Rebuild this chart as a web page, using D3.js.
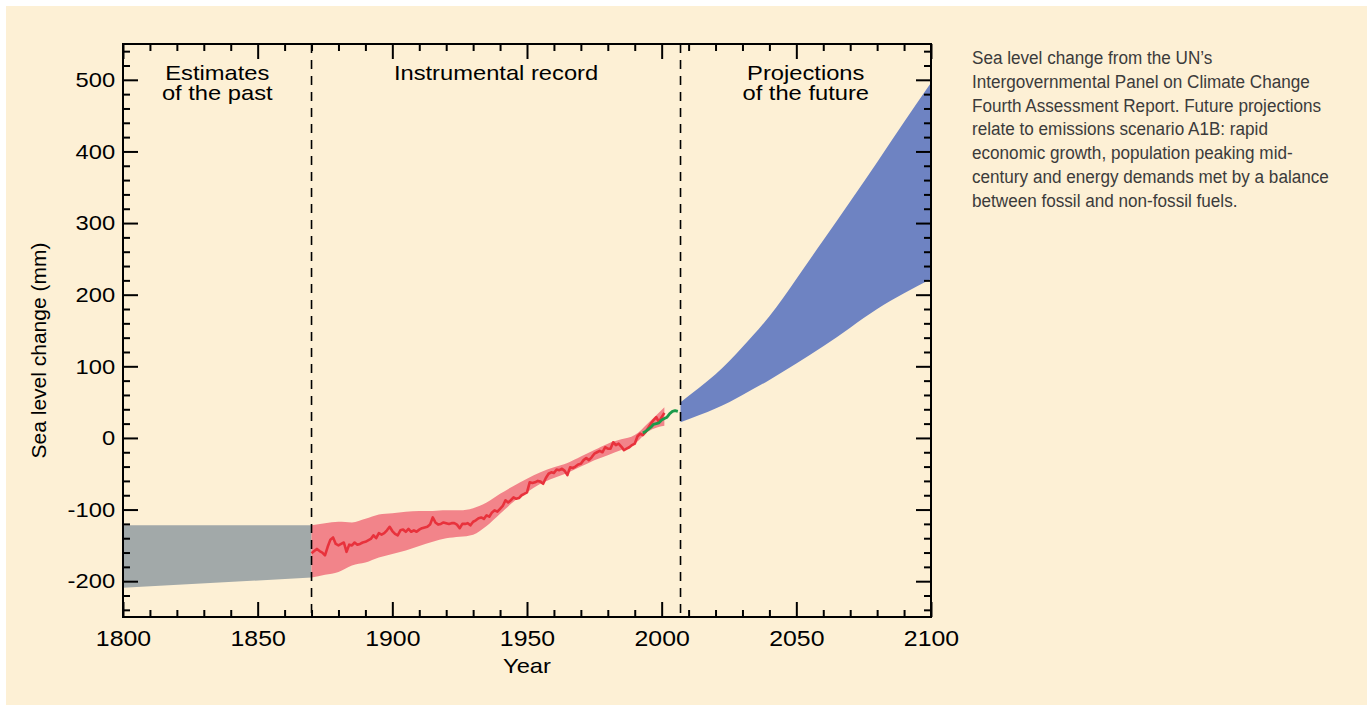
<!DOCTYPE html>
<html>
<head>
<meta charset="utf-8">
<script src="https://cdn.jsdelivr.net/npm/d3@7"></script>
<style>
  html, body { margin: 0; padding: 0; background: #ffffff; }
  svg { display: block; font-family: "Liberation Sans", Arial, Helvetica, sans-serif; }
</style>
</head>
<body>
<div id="chart"></div>
<script>
// sea level change, mm relative to 1980-1999
const pastYears = [1800, 1870];
const pastUpper = [-122, -122];
const pastLower = [-209, -195];

const bandYears = [1870, 1875, 1880, 1885, 1890, 1895, 1900, 1905, 1910, 1915, 1920, 1925, 1930, 1935,
  1940, 1945, 1950, 1955, 1960, 1965, 1970, 1975, 1980, 1985, 1990, 1995, 2001];
const bandUpper = [-122, -119, -117, -118, -113, -107, -105, -103, -102, -102, -101, -101, -98, -90,
  -78, -67, -57, -48, -41, -35, -26, -17, -8, -2, 4, 21, 43];
const bandLower = [-195, -191, -187, -178, -174, -167, -162, -157, -151, -145, -140, -138, -135, -123,
  -106, -89, -76, -64, -56, -49, -40, -31, -24, -17, -8, 9, 17];

// tide gauge record, one value per year starting 1870
const tideStart = 1870;
const tideLevel = [
  -161, -158, -155, -158, -160, -164, -152, -142, -139, -148,
  -150, -148, -146, -159, -149, -150, -146, -149, -148, -146,
  -145, -143, -141, -136, -140, -133, -135, -133, -129, -124,
  -130, -134, -136, -129, -128, -131, -127, -131, -129, -131,
  -128, -126, -125, -124, -121, -111, -118, -121, -120, -118,
  -119, -120, -119, -119, -121, -126, -120, -120, -119, -122,
  -117, -115, -112, -111, -113, -108, -110, -104, -101, -103,
  -99, -95, -87, -90, -87, -83, -85, -84, -80, -78,
  -76, -62, -63, -62, -60, -61, -64, -56, -50, -48,
  -49, -44, -45, -43, -46, -52, -41, -42, -40, -37,
  -36, -31, -28, -31, -27, -22, -20, -18, -20, -13,
  -15, -15, -6, -10, -8, -12, -17, -15, -13, -10,
  -8, 2, 6, 4, 8, 14, 20, 25, 29, 22,
  29, 35
];

// satellite altimetry
const satYears = [1993, 1994, 1995, 1996, 1997, 1998, 1999, 2000, 2001, 2002, 2003, 2004, 2005, 2006];
const satLevel = [7, 9, 12, 15, 19, 20, 21, 25, 27, 29, 34, 37, 38, 37];

// projections, scenario A1B
const projYears = [2007, 2020, 2030, 2040, 2050, 2060, 2070, 2080, 2090, 2100];
const projUpper = [50, 89, 127, 170, 222, 276, 330, 385, 441, 496];
const projLower = [22, 41, 60, 81, 104, 128, 154, 180, 202, 222];

const dividers = [1870, 2007];
const xMajor = [1800, 1850, 1900, 1950, 2000, 2050, 2100];
const yMajor = [-200, -100, 0, 100, 200, 300, 400, 500];

const noteLines = [
  "Sea level change from the UN\u2019s",
  "Intergovernmental Panel on Climate Change",
  "Fourth Assessment Report. Future projections",
  "relate to emissions scenario A1B: rapid",
  "economic growth, population peaking mid-",
  "century and energy demands met by a balance",
  "between fossil and non-fossil fuels."
];

const W = 1367, H = 711;
const plotLeft = 123, plotRight = 931, plotTop = 44, plotBottom = 617;
const stretch = 1.13; // chart lettering is a little wider than Liberation Sans

const svg = d3.select("#chart").append("svg")
  .attr("width", W)
  .attr("height", H);

svg.append("rect")
  .attr("x", 6).attr("y", 6)
  .attr("width", W - 6).attr("height", 699)
  .attr("fill", "#fdf0d5");

const x = d3.scaleLinear().domain([1800, 2100]).range([plotLeft, plotRight]);
const y = d3.scaleLinear().domain([-250, 550]).range([plotBottom, plotTop]);

const band = d3.area()
  .x((d) => x(d.year))
  .y0((d) => y(d.lo))
  .y1((d) => y(d.hi));

const zip = (years, hi, lo) => years.map((yr, i) => ({ year: yr, hi: hi[i], lo: lo[i] }));

// estimates of the past
svg.append("path")
  .datum(zip(pastYears, pastUpper, pastLower))
  .attr("d", band)
  .attr("fill", "#a2a9a9");

// instrumental uncertainty band
svg.append("path")
  .datum(zip(bandYears, bandUpper, bandLower))
  .attr("d", band.curve(d3.curveMonotoneX))
  .attr("fill", "#f2848a");

// projections
svg.append("path")
  .datum(zip(projYears, projUpper, projLower))
  .attr("d", band.curve(d3.curveNatural))
  .attr("fill", "#6e83c2");

const line = d3.line()
  .x((d) => x(d[0]))
  .y((d) => y(d[1]));

svg.append("path")
  .datum(tideLevel.map((v, i) => [tideStart + i, v]))
  .attr("d", line)
  .attr("fill", "none")
  .attr("stroke", "#e8323c")
  .attr("stroke-width", 2.6)
  .attr("stroke-linejoin", "round");

svg.append("path")
  .datum(satYears.map((yr, i) => [yr, satLevel[i]]))
  .attr("d", line)
  .attr("fill", "none")
  .attr("stroke", "#1b9a4a")
  .attr("stroke-width", 2.8)
  .attr("stroke-linejoin", "round");

// dashed dividers
svg.selectAll(".divider")
  .data(dividers)
  .join("line")
  .attr("class", "divider")
  .attr("x1", (d) => x(d)).attr("x2", (d) => x(d))
  .attr("y1", plotTop).attr("y2", plotBottom)
  .attr("stroke", "#000")
  .attr("stroke-width", 1.6)
  .attr("stroke-dasharray", "9,7");

// axes, ticks pointing inward on all four sides
const xMinor = d3.range(1800, 2101, 10).filter((d) => d % 50 !== 0);
const yMinor = d3.range(-240, 550, 20).filter((d) => d % 100 !== 0);

function addAxis(gen, tx, ty, values, size, labels) {
  const g = svg.append("g")
    .attr("transform", `translate(${tx},${ty})`)
    .call(gen.tickValues(values).tickSize(size)
      .tickFormat(labels ? (d) => String(d) : ""));
  g.select(".domain").remove();
  g.selectAll(".tick line").attr("stroke", "#000").attr("stroke-width", 2);
  return g;
}

const xb = addAxis(d3.axisBottom(x), 0, plotBottom, xMajor, -15, true);
xb.selectAll("text")
  .attr("y", 13)
  .attr("font-size", 22)
  .attr("fill", "#000")
  .attr("transform", `scale(${stretch},1)`);
addAxis(d3.axisBottom(x), 0, plotBottom, xMinor, -7, false);
addAxis(d3.axisTop(x), 0, plotTop, xMajor, -15, false);
addAxis(d3.axisTop(x), 0, plotTop, xMinor, -7, false);

const yl = addAxis(d3.axisLeft(y), plotLeft, 0, yMajor, -15, true);
yl.selectAll("text")
  .attr("x", -7)
  .attr("font-size", 21)
  .attr("fill", "#000")
  .attr("transform", `scale(${stretch},1)`);
addAxis(d3.axisLeft(y), plotLeft, 0, yMinor, -7, false);
addAxis(d3.axisRight(y), plotRight, 0, yMajor, -15, false);
addAxis(d3.axisRight(y), plotRight, 0, yMinor, -7, false);

svg.append("rect")
  .attr("x", plotLeft).attr("y", plotTop)
  .attr("width", plotRight - plotLeft).attr("height", plotBottom - plotTop)
  .attr("fill", "none")
  .attr("stroke", "#000")
  .attr("stroke-width", 2);

// axis titles
svg.append("text")
  .attr("transform", `translate(${(plotLeft + plotRight) / 2},673) scale(${stretch},1)`)
  .attr("text-anchor", "middle")
  .attr("font-size", 21)
  .text("Year");

svg.append("text")
  .attr("transform", `translate(46,${(plotTop + plotBottom) / 2 + 20}) rotate(-90)`)
  .attr("text-anchor", "middle")
  .attr("font-size", 21)
  .text("Sea level change (mm)");

// period labels
const periods = [
  { lines: ["Estimates", "of the past"], from: 1800, to: 1870 },
  { lines: ["Instrumental record"], from: 1870, to: 2007 },
  { lines: ["Projections", "of the future"], from: 2007, to: 2100 }
];

periods.forEach((p) => {
  const t = svg.append("text")
    .attr("transform", `translate(${(x(p.from) + x(p.to)) / 2},0) scale(${stretch},1)`)
    .attr("text-anchor", "middle")
    .attr("font-size", 21);
  p.lines.forEach((s, i) => {
    t.append("tspan")
      .attr("x", 0)
      .attr("y", 80 + i * 20)
      .text(s);
  });
});

// side note, squeezed horizontally to mimic the condensed face
const note = svg.append("text")
  .attr("font-size", 19)
  .attr("fill", "#3b3b3b");

note.selectAll("tspan")
  .data(noteLines)
  .join("tspan")
  .attr("x", 0)
  .attr("y", (d, i) => 64 + i * 23.8)
  .text((d) => d);

const widest = d3.max(note.selectAll("tspan").nodes(), (n) => n.getComputedTextLength());
note.attr("transform", `translate(972,0) scale(${357 / widest},1)`);
</script>
</body>
</html>
